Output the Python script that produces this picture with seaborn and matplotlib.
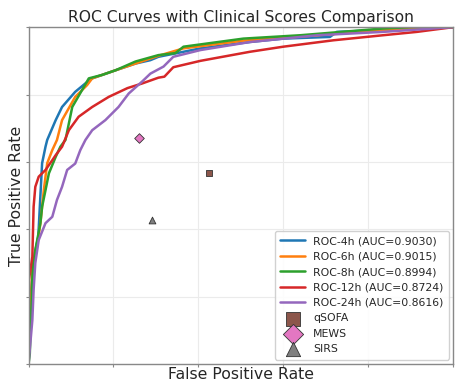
import numpy as np
import pandas as pd
import matplotlib
matplotlib.use('Agg')
import matplotlib.pyplot as plt
import seaborn as sns

## ROC curve points (FPR, TPR)
fpr_4h = [0, 0.005, 0.015, 0.023, 0.028, 0.032, 0.040, 0.044, 0.064, 0.079, 0.110, 0.134, 0.150, 0.205, 0.252, 0.287, 0.306, 0.405, 0.522, 0.600, 0.710, 0.726, 0.850, 1.0]
tpr_4h = [0, 0.20, 0.33, 0.378, 0.50, 0.596, 0.645, 0.665, 0.724, 0.763, 0.808, 0.833, 0.848, 0.872, 0.892, 0.902, 0.912, 0.937, 0.956, 0.966, 0.971, 0.986, 0.992, 1.0]

fpr_6h = [0, 0.005, 0.009, 0.020, 0.028, 0.036, 0.044, 0.056, 0.067, 0.079, 0.110, 0.138, 0.150, 0.205, 0.252, 0.306, 0.365, 0.506, 0.640, 0.835, 1.0]
tpr_6h = [0, 0.15, 0.289, 0.348, 0.418, 0.516, 0.596, 0.635, 0.665, 0.724, 0.793, 0.828, 0.848, 0.872, 0.892, 0.915, 0.937, 0.960, 0.972, 0.991, 1.0]

fpr_8h = [0, 0.003, 0.010, 0.016, 0.028, 0.032, 0.040, 0.048, 0.064, 0.075, 0.087, 0.103, 0.126, 0.142, 0.173, 0.205, 0.252, 0.306, 0.346, 0.365, 0.506, 0.640, 0.835, 0.900, 1.0]
tpr_8h = [0, 0.03, 0.29, 0.338, 0.418, 0.467, 0.516, 0.566, 0.615, 0.645, 0.665, 0.763, 0.813, 0.848, 0.858, 0.872, 0.898, 0.917, 0.923, 0.942, 0.966, 0.976, 0.996, 1.0, 1.0]

fpr_12h = [0, 0.001, 0.009, 0.012, 0.016, 0.024, 0.040, 0.056, 0.064, 0.079, 0.095, 0.118, 0.150, 0.189, 0.233, 0.268, 0.306, 0.320, 0.341, 0.405, 0.522, 0.600, 0.718, 0.835, 0.915, 1.0]
tpr_12h = [0, 0.25, 0.318, 0.467, 0.526, 0.556, 0.576, 0.605, 0.620, 0.645, 0.694, 0.734, 0.763, 0.793, 0.819, 0.833, 0.850, 0.853, 0.881, 0.900, 0.927, 0.942, 0.961, 0.976, 0.986, 1.0]

fpr_24h = [0, 0.009, 0.012, 0.016, 0.024, 0.040, 0.056, 0.067, 0.079, 0.091, 0.110, 0.122, 0.134, 0.150, 0.181, 0.212, 0.236, 0.268, 0.287, 0.318, 0.341, 0.405, 0.522, 0.680, 0.835, 1.0]
tpr_24h = [0, 0.13, 0.22, 0.30, 0.368, 0.418, 0.437, 0.487, 0.526, 0.576, 0.595, 0.635, 0.665, 0.694, 0.724, 0.763, 0.803, 0.839, 0.862, 0.883, 0.912, 0.932, 0.956, 0.976, 0.986, 1.0]

roc_labels = ['ROC-4h (AUC=0.9030)', 'ROC-6h (AUC=0.9015)', 'ROC-8h (AUC=0.8994)',
              'ROC-12h (AUC=0.8724)', 'ROC-24h (AUC=0.8616)']

## Clinical score operating points
score_names = ['qSOFA', 'MEWS', 'SIRS']
score_fpr = [0.426, 0.261, 0.292]
score_tpr = [0.567, 0.671, 0.427]

sns.set_theme(style='whitegrid')
plt.rcParams['font.family'] = ['DejaVu Sans']

fig = plt.figure(figsize=(4.6, 3.88), dpi=100)
ax = fig.add_axes([0.062, 0.062, 0.923, 0.868])

colors = sns.color_palette('tab10')
curves = [(fpr_4h, tpr_4h), (fpr_6h, tpr_6h), (fpr_8h, tpr_8h), (fpr_12h, tpr_12h), (fpr_24h, tpr_24h)]
for i, (f, t) in enumerate(curves):
    d = pd.DataFrame({'fpr': f, 'tpr': t})
    sns.lineplot(data=d, x='fpr', y='tpr', sort=False, estimator=None, color=colors[i],
                 linewidth=1.8, label=roc_labels[i], ax=ax)

score_markers = ['s', 'D', '^']
score_colors = [colors[5], colors[6], colors[7]]
for i, name in enumerate(score_names):
    ax.scatter(score_fpr[i], score_tpr[i], marker=score_markers[i], s=24, color=score_colors[i],
               edgecolor='#333333', linewidth=0.6, label=name, zorder=5)

ax.set_xlim(0, 1)
ax.set_ylim(0, 1)
ax.set_xticks(np.arange(0, 1.01, 0.2))
ax.set_yticks(np.arange(0, 1.01, 0.2))
ax.set_xticklabels([])
ax.set_yticklabels([])
ax.tick_params(axis='both', length=2.5, width=0.8, color='#888888', bottom=True, left=True, pad=0)
ax.grid(color='#ebebeb', linewidth=0.8)
for s in ax.spines.values():
    s.set_color('#888888')
    s.set_linewidth(1.0)

ax.set_xlabel('False Positive Rate', fontsize=11.3, labelpad=0)
ax.set_ylabel('True Positive Rate', fontsize=11.3, labelpad=1)
ax.set_title('ROC Curves with Clinical Scores Comparison', fontsize=11.2, pad=4)
ax.legend(loc='lower right', fontsize=7.8, markerscale=2.1, handlelength=2.3, labelspacing=0.5,
          borderpad=0.5, handletextpad=0.7, framealpha=0.9, borderaxespad=0.4)

fig.savefig('out.png', dpi=100)
